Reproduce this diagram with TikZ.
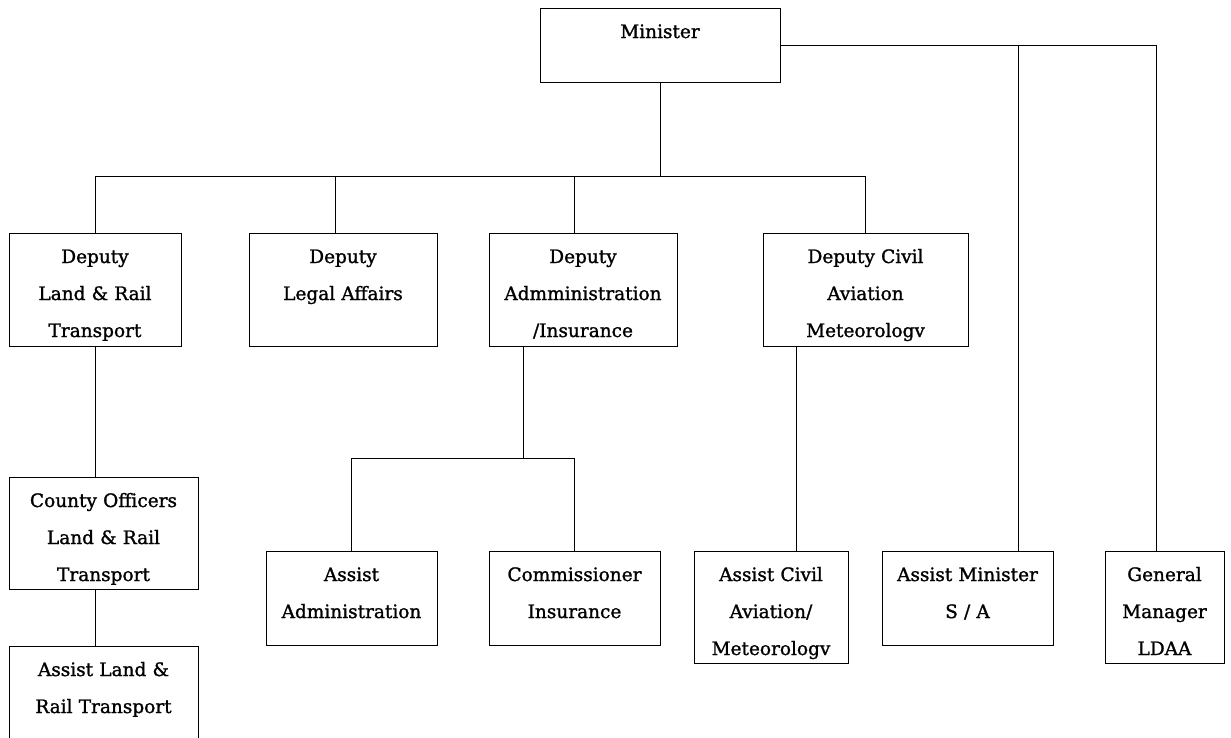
\documentclass[tikz,border=0pt]{standalone}
\usepackage{fontspec}
\setmainfont[FakeBold=1.3]{DejaVu Serif}
\usetikzlibrary{positioning}

\begin{document}
\begin{tikzpicture}[
    x=1pt, y=-1pt,
    font=\fontsize{18.5pt}{37pt}\selectfont,
    box/.style={rectangle, draw=black, line width=0.8pt, align=center, inner xsep=0pt, inner ysep=0pt, outer sep=0pt, text height=30pt, anchor=north west},
    tall/.style={text depth=82pt},
    short/.style={text depth=64pt},
    link/.style={draw=black, line width=0.8pt}
  ]
    \useasboundingbox (0,0) rectangle (1231,737);
    % top
    \node[box, text width=240pt, text depth=44pt] (mn) at (540,8) {Minister};
    % deputies
    \node[box, tall, text width=172pt, text depth=83pt] (dland) at (9,233) {Deputy\\Land \& Rail\\Transport};
    \node[box, tall, text width=188pt, text depth=83pt, right=68pt of dland] (dlegal) {Deputy\\Legal Affairs};
    \node[box, tall, text width=188pt, text depth=83pt, right=52pt of dlegal] (dadmin) {Deputy\\Admministration\\/Insurance};
    \node[box, tall, text width=205pt, text depth=83pt, right=86pt of dadmin] (dciv) {Deputy Civil\\Aviation\\Meteorologv};
    % lower rows
    \node[box, tall, text width=189pt] (county) at (9,477) {County Officers\\Land \& Rail\\Transport};
    \node[box, text width=189pt, text depth=95pt] (aland) at (9,646) {Assist Land \&\\Rail Transport};
    \node[box, short, text width=171pt] (aadmin) at (266,551) {Assist\\Administration};
    \node[box, short, text width=171pt] (comm) at (489,551) {Commissioner\\Insurance};
    \node[box, tall, text width=154pt] (acivil) at (694,551) {Assist Civil\\Aviation/\\Meteorologv};
    \node[box, short, text width=171pt] (amin) at (882,551) {Assist Minister\\S / A};
    \node[box, tall, text width=119pt] (gm) at (1105,551) {General\\Manager\\LDAA};

    \coordinate (bus) at (0,176);
    \coordinate (sub) at (0,458);
    \draw[link] (mn.south) -- (mn.south |- bus);
    \draw[link] (dland.north) |- (dciv.north |- bus) -- (dciv.north);
    \draw[link] ([xshift=-8pt]dlegal.north) -- ([xshift=-8pt]dlegal.north |- bus);
    \draw[link] ([xshift=-9pt]dadmin.north) -- ([xshift=-9pt]dadmin.north |- bus);
    \draw[link] (dland.south) -- (dland.south |- county.north);
    \draw[link] ([xshift=-8.5pt]county.south) -- ([xshift=-8.5pt]aland.north);
    \draw[link] ([xshift=-60pt]dadmin.south) -- ([xshift=-60pt]dadmin.south |- sub);
    \draw[link] (aadmin.north) |- (comm.north |- sub) -- (comm.north);
    \draw[link] ([xshift=-69pt]dciv.south) -- ([xshift=-69pt]dciv.south |- acivil.north);
    \draw[link] (mn.east) -| ([xshift=-8pt]gm.north);
    \draw[link] ([xshift=51pt]amin.north) -- ([xshift=51pt]amin.north |- mn.east);
  \end{tikzpicture}
\end{document}
